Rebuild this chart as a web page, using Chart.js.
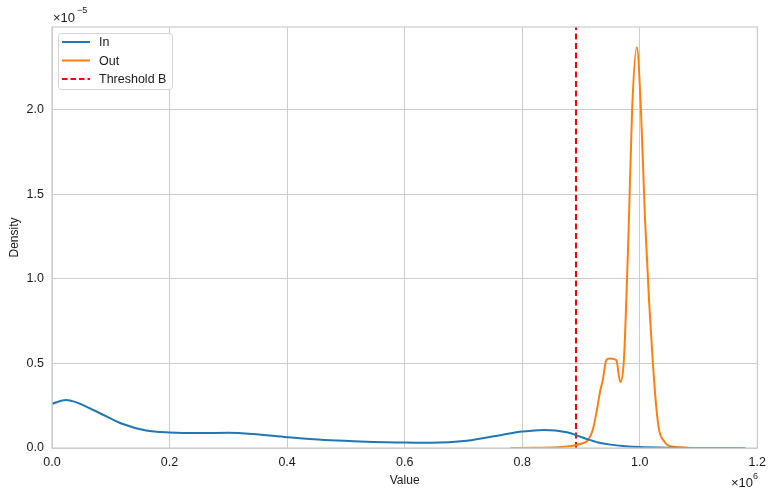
<!DOCTYPE html>
<html>
<head>
<meta charset="utf-8">
<script src="https://cdn.jsdelivr.net/npm/chart.js@4.4.0/dist/chart.umd.min.js"></script>
<style>
  html, body { margin: 0; padding: 0; background: #fff; }
  #wrap { width: 773px; height: 493px; }
</style>
</head>
<body>
<div id="wrap"><canvas id="chart"></canvas></div>
<script>
// x values in units of 1e6, density in units of 1e-5
const inX = [0, 0.024, 0.07, 0.118, 0.16, 0.2, 0.25, 0.30, 0.342, 0.40, 0.464, 0.524, 0.60, 0.645, 0.706, 0.767, 0.80, 0.836, 0.876, 0.906, 0.929, 0.95, 0.975, 1.0, 1.05, 1.1, 1.18];
const inY = [0.262, 0.284, 0.225, 0.145, 0.104, 0.092, 0.088, 0.090, 0.083, 0.064, 0.047, 0.039, 0.032, 0.031, 0.043, 0.079, 0.097, 0.107, 0.093, 0.058, 0.033, 0.020, 0.011, 0.006, 0.002, 0.0006, 0];

const outX = [0.78, 0.82, 0.86, 0.88, 0.90, 0.912, 0.920, 0.926, 0.933, 0.937, 0.943, 0.949, 0.960, 0.967, 0.973, 0.977, 0.981, 0.987, 0.995, 1.002, 1.009, 1.016, 1.022, 1.028, 1.033, 1.042, 1.047, 1.06, 1.08, 1.10, 1.12];
const outY = [0, 0.001, 0.004, 0.010, 0.025, 0.047, 0.106, 0.205, 0.343, 0.40, 0.52, 0.53, 0.52, 0.39, 0.52, 0.86, 1.28, 2.0, 2.37, 2.0, 1.35, 0.86, 0.52, 0.245, 0.106, 0.037, 0.018, 0.006, 0.002, 0.0005, 0];

const thresholdB = 0.8915;
const yMax = 2.49;

const xTicks = [0, 0.2, 0.4, 0.6, 0.8, 1.0, 1.2];
const yTicks = [0, 0.5, 1.0, 1.5, 2.0];

const seriesNames = ['In', 'Out', 'Threshold B'];
const seriesColors = ['#1f77b4', '#ff7f0e', '#ff0000'];

const FONT = "'Liberation Sans', Arial, sans-serif";
const TEXT = '#1a1a1a';

function pts(xs, ys) { return xs.map((x, i) => ({ x: x, y: ys[i] })); }

const framePlugin = {
    id: 'frame',
    afterDraw(chart) {
        const { ctx, chartArea: a } = chart;
        ctx.save();
        ctx.strokeStyle = '#cccccc';
        ctx.lineWidth = 1.2;
        ctx.strokeRect(a.left, a.top, a.right - a.left, a.bottom - a.top);

        // legend
        const lx = 58, ly = 33, lw = 114, lh = 56;
        ctx.fillStyle = 'rgba(255,255,255,0.85)';
        ctx.strokeStyle = '#d6d6d6';
        ctx.lineWidth = 1;
        ctx.beginPath();
        ctx.roundRect(lx + 0.5, ly + 0.5, lw, lh, 3);
        ctx.fill();
        ctx.stroke();
        ctx.font = '12.5px ' + FONT;
        ctx.textBaseline = 'middle';
        ctx.textAlign = 'left';
        seriesNames.forEach((name, i) => {
            const y = 42 + i * 18.5;
            ctx.strokeStyle = seriesColors[i];
            ctx.lineWidth = 2;
            ctx.setLineDash(i === 2 ? [5.5, 3] : []);
            ctx.beginPath();
            ctx.moveTo(62, y);
            ctx.lineTo(90, y);
            ctx.stroke();
            ctx.setLineDash([]);
            ctx.fillStyle = TEXT;
            ctx.fillText(name, 99, y + 1);
        });

        // offset texts
        ctx.fillStyle = TEXT;
        ctx.textBaseline = 'alphabetic';
        ctx.font = '13px ' + FONT;
        ctx.fillText('\u00d710', 53, 22);
        ctx.font = '9px ' + FONT;
        ctx.fillText('\u22125', 77, 13);
        ctx.font = '13px ' + FONT;
        ctx.textAlign = 'right';
        ctx.fillText('\u00d710', 753, 487);
        ctx.textAlign = 'left';
        ctx.font = '9px ' + FONT;
        ctx.fillText('6', 753, 479);
        ctx.restore();
    }
};

new Chart(document.getElementById('chart'), {
    type: 'line',
    data: {
        datasets: [
            {
                label: seriesNames[0],
                data: pts(inX, inY),
                borderColor: seriesColors[0],
                borderWidth: 2,
                pointRadius: 0,
                cubicInterpolationMode: 'monotone',
                fill: false
            },
            {
                label: seriesNames[1],
                data: pts(outX, outY),
                borderColor: seriesColors[1],
                borderWidth: 2,
                pointRadius: 0,
                cubicInterpolationMode: 'monotone',
                fill: false
            },
            {
                label: seriesNames[2],
                data: [{ x: thresholdB, y: 0 }, { x: thresholdB, y: yMax }],
                borderColor: seriesColors[2],
                borderWidth: 2,
                borderDash: [6, 3.5],
                pointRadius: 0,
                fill: false
            }
        ]
    },
    options: {
        responsive: true,
        maintainAspectRatio: false,
        animation: false,
        layout: { padding: { top: 27, right: 13, left: 0, bottom: 0 } },
        plugins: {
            legend: { display: false },
            tooltip: { enabled: false }
        },
        scales: {
            x: {
                type: 'linear',
                min: 0,
                max: 1.2,
                afterBuildTicks: s => { s.ticks = xTicks.map(v => ({ value: v })); },
                afterFit: s => { s.height = 45; },
                grid: { color: '#cccccc', lineWidth: 1, drawTicks: false },
                border: { display: false },
                ticks: {
                    padding: 7,
                    color: TEXT,
                    font: { family: FONT, size: 12.5 },
                    callback: v => v.toFixed(1),
                    maxRotation: 0
                },
                title: {
                    display: true,
                    text: 'Value',
                    color: TEXT,
                    font: { family: FONT, size: 12 },
                    padding: { top: 0, bottom: 5 }
                }
            },
            y: {
                type: 'linear',
                min: 0,
                max: yMax,
                afterBuildTicks: s => { s.ticks = yTicks.map(v => ({ value: v })); },
                afterFit: s => { s.width = 52; },
                grid: { color: '#cccccc', lineWidth: 1, drawTicks: false },
                border: { display: false },
                ticks: {
                    padding: 8,
                    color: TEXT,
                    font: { family: FONT, size: 12.5 },
                    callback: v => v.toFixed(1)
                },
                title: {
                    display: true,
                    text: 'Density',
                    color: TEXT,
                    font: { family: FONT, size: 12 },
                    padding: { top: 7, bottom: 0 }
                }
            }
        }
    },
    plugins: [framePlugin]
});
</script>
</body>
</html>
